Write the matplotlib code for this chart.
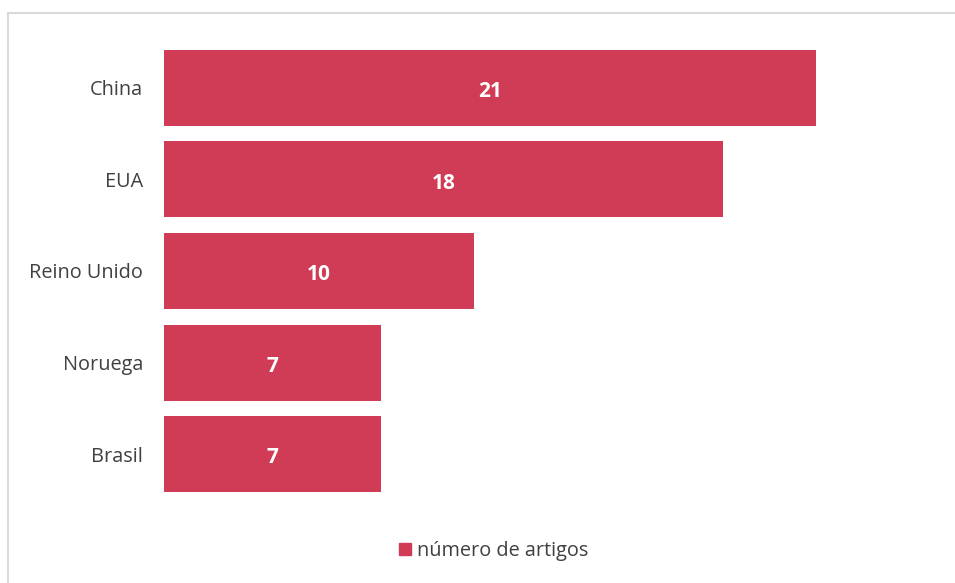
import matplotlib.pyplot as plt
from matplotlib.lines import Line2D

plt.rcParams['font.family'] = ['Open Sans', 'DejaVu Sans']

countries = ['China', 'EUA', 'Reino Unido', 'Noruega', 'Brasil']
artigos = [21, 18, 10, 7, 7]
bar_color = '#D03C55'
text_color = '#404040'

W, H = 955, 583
fig = plt.figure(figsize=(W / 100, H / 100), dpi=100)
ax = fig.add_axes([164 / W, 1 - 500 / H, (940 - 164) / W, (500 - 42) / H])

ypos = list(range(len(countries)))
bars = ax.barh(ypos, artigos, height=0.83, color=bar_color, label='número de artigos')
ax.set_ylim(len(countries) - 0.5, -0.5)
ax.set_xlim(0, 25)
ax.set_yticks(ypos)
ax.set_yticklabels(countries, fontsize=14.3, color=text_color)
ax.tick_params(axis='y', length=0, pad=15)
ax.set_xticks([])
for s in ax.spines.values():
    s.set_visible(False)

for b, v in zip(bars, artigos):
    ax.text(b.get_width() / 2, b.get_y() + b.get_height() / 2 + 0.04, str(v),
            ha='center', va='center', color='white', fontsize=15, fontweight='bold')

fig.legend(handles=[plt.Rectangle((0, 0), 1, 1, color=bar_color)],
           labels=['número de artigos'], loc='center', bbox_to_anchor=(494 / W, 1 - 551 / H),
           frameon=False, fontsize=14.3, handlelength=0.6, handleheight=0.6,
           handletextpad=0.3, labelcolor=text_color)

# outer chart frame (cropped on right and bottom)
fig.add_artist(Line2D([8 / W, 1], [1 - 13 / H, 1 - 13 / H], color='#D9D9D9', lw=1.5))
fig.add_artist(Line2D([8 / W, 8 / W], [0, 1 - 13 / H], color='#D9D9D9', lw=1.5))

fig.savefig('out.png', dpi=100)
